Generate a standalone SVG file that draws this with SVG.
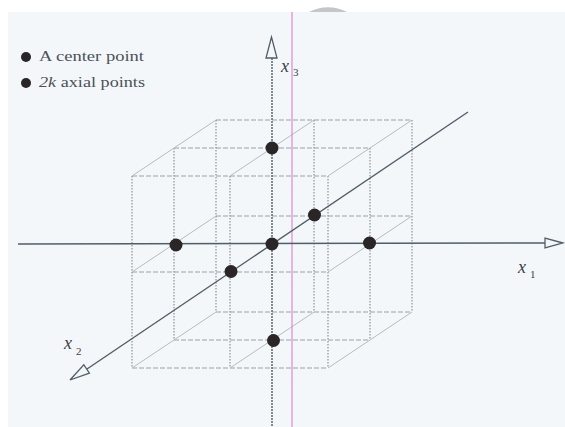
<svg xmlns="http://www.w3.org/2000/svg" width="565" height="427" viewBox="0 0 565 427">
<style>
.h{stroke:#98a3aa;stroke-width:1;stroke-dasharray:5,2;fill:none}
.v{stroke:#7f8c94;stroke-width:1.1;stroke-dasharray:1.5,1.5;fill:none}
.d{stroke:#b3bcc2;stroke-width:1;fill:none}
.ax{stroke:#4f5e68;stroke-width:1.4;fill:none}
.ar{stroke:#4f5e68;stroke-width:1.3;fill:#f4f7f9}
.pt{fill:#2a2526}
.lbl{font-family:"Liberation Serif",serif;font-style:italic;fill:#3a4248}
.sub{font-family:"Liberation Serif",serif;fill:#3a4248;font-size:11px}
.leg{font-family:"Liberation Serif",serif;font-size:14px;fill:#4a5258}
</style>
<rect x="0" y="0" width="565" height="427" fill="#ffffff"/>
<path d="M309,12 A40.5,40.5 0 0 1 347,12 Z" fill="#c6c6c6"/>
<rect x="8" y="12" width="557" height="415" fill="#f4f7f9"/>
<g id="grid">
<line class="h" x1="216" y1="120" x2="412" y2="120"/>
<line class="h" x1="174" y1="148" x2="370" y2="148"/>
<line class="h" x1="132" y1="176" x2="328" y2="176"/>
<line class="h" x1="216" y1="216" x2="412" y2="216"/>
<line class="h" x1="132" y1="272" x2="328" y2="272"/>
<line class="h" x1="216" y1="312" x2="412" y2="312"/>
<line class="h" x1="174" y1="340" x2="370" y2="340"/>
<line class="h" x1="132" y1="368" x2="328" y2="368"/>
<line class="v" x1="132" y1="176" x2="132" y2="368"/>
<line class="v" x1="174" y1="148" x2="174" y2="340"/>
<line class="v" x1="216" y1="120" x2="216" y2="312"/>
<line class="v" x1="230" y1="176" x2="230" y2="368"/>
<line class="v" x1="314" y1="120" x2="314" y2="312"/>
<line class="v" x1="328" y1="176" x2="328" y2="368"/>
<line class="v" x1="370" y1="148" x2="370" y2="340"/>
<line class="v" x1="412" y1="120" x2="412" y2="312"/>
<line class="d" x1="216" y1="120" x2="132" y2="176"/>
<line class="d" x1="314" y1="120" x2="230" y2="176"/>
<line class="d" x1="412" y1="120" x2="328" y2="176"/>
<line class="d" x1="216" y1="216" x2="132" y2="272"/>
<line class="d" x1="412" y1="216" x2="328" y2="272"/>
<line class="d" x1="216" y1="312" x2="132" y2="368"/>
<line class="d" x1="314" y1="312" x2="230" y2="368"/>
<line class="d" x1="412" y1="312" x2="328" y2="368"/>
</g>
<line x1="292" y1="12" x2="292" y2="427" stroke="#d88ad0" stroke-width="1.2"/>
<g id="axes">
<line class="ax" x1="18" y1="244" x2="545" y2="243"/>
<polygon class="ar" points="563,243 545,238 545,248"/>
<line class="ax" x1="272" y1="58" x2="272" y2="427" stroke-dasharray="2,1"/>
<polygon class="ar" points="271.5,37 266,58 277,58"/>
<line class="ax" x1="468" y1="112" x2="87" y2="369"/>
<polygon class="ar" points="70,380 89.4,373.1 83.8,364.7"/>
</g>
<g id="labels">
<text class="lbl" x="518" y="273" font-size="18">x</text><text class="sub" x="530" y="278">1</text>
<text class="lbl" x="281" y="72" font-size="18">x</text><text class="sub" x="293" y="76">3</text>
<text class="lbl" x="64" y="349" font-size="18">x</text><text class="sub" x="76" y="355">2</text>
</g>
<g id="points">
<circle class="pt" cx="272" cy="148" r="6.5"/>
<circle class="pt" cx="272" cy="244" r="6.5"/>
<circle class="pt" cx="369.5" cy="243" r="6.5"/>
<circle class="pt" cx="176" cy="245" r="6.5"/>
<circle class="pt" cx="314.5" cy="215" r="6.5"/>
<circle class="pt" cx="231" cy="271.5" r="6.5"/>
<circle class="pt" cx="273.5" cy="340.5" r="6.5"/>
</g>
<g id="legend">
<circle class="pt" cx="26" cy="57" r="5"/>
<text class="leg" x="39" y="61" textLength="105" lengthAdjust="spacingAndGlyphs">A center point</text>
<circle class="pt" cx="26" cy="83" r="5"/>
<text class="leg" x="39" y="87" textLength="106" lengthAdjust="spacingAndGlyphs"><tspan font-style="italic">2k</tspan> axial points</text>
</g>
</svg>
